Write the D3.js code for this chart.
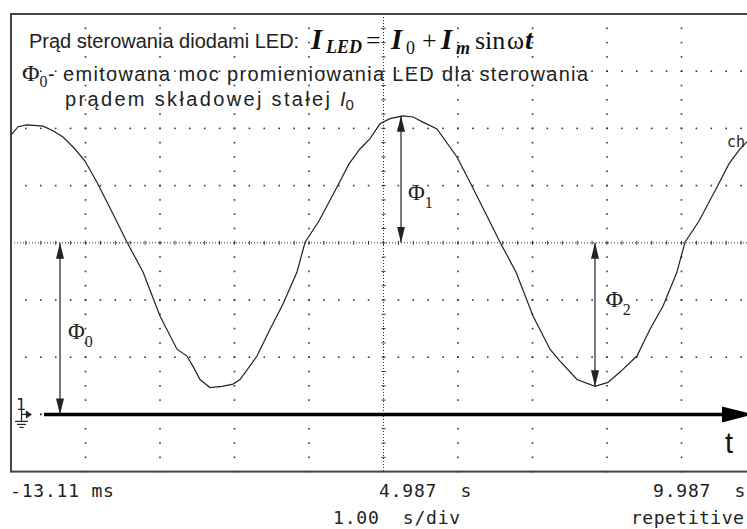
<!DOCTYPE html>
<html>
<head>
<meta charset="utf-8">
<script src="https://cdn.jsdelivr.net/npm/d3@7/dist/d3.min.js"></script>
<style>
body { margin: 0; background: #fff; }
svg { display: block; }
.mono { font-family: "DejaVu Sans Mono", monospace; white-space: pre; }
</style>
</head>
<body>
<div id="vis"></div>
<script>
// trace: time [s] and level [div above ground marker]
var traceTime = [0.000, 0.081, 0.202, 0.417, 0.551, 0.685, 0.846, 0.980, 1.141, 1.370,
    1.544, 1.759, 1.987, 2.215, 2.349, 2.430, 2.524, 2.658, 2.819, 2.967,
    3.061, 3.289, 3.464, 3.638, 3.826, 3.934, 4.121, 4.349, 4.524, 4.671,
    4.806, 4.940, 5.074, 5.249, 5.383, 5.517, 5.705, 5.973, 6.148, 6.376,
    6.551, 6.765, 6.994, 7.222, 7.356, 7.584, 7.826, 8.000, 8.161, 8.389,
    8.564, 8.738, 8.926, 9.034, 9.222, 9.450, 9.624, 9.772, 9.906];
var traceLevel = [4.90, 5.03, 5.06, 5.04, 4.96, 4.85, 4.64, 4.43, 4.06, 3.47,
    3.01, 2.49, 1.72, 1.14, 1.02, 0.84, 0.61, 0.47, 0.49, 0.53,
    0.61, 1.02, 1.49, 1.93, 2.49, 3.01, 3.38, 3.94, 4.38, 4.64,
    4.82, 5.08, 5.17, 5.22, 5.20, 5.11, 4.99, 4.50, 4.06, 3.47,
    3.01, 2.49, 1.72, 1.14, 0.93, 0.61, 0.49, 0.56, 0.74, 1.02,
    1.49, 1.89, 2.49, 3.01, 3.38, 3.94, 4.38, 4.64, 4.82];

// dimension arrows (Phi_0, Phi_1, Phi_2)
var arrowSub = ["0", "1", "2"];
var arrowTime = [0.645, 5.222, 7.826];
var arrowTop = [3.0, 5.22, 3.0];
var arrowBottom = [0.0, 3.0, 0.49];

// scope readouts
var readoutTop = ["-13.11 ms", "4.987  s", "9.987  s"];
var readoutBottom = ["1.00  s/div", "repetitive"];

var tStart = -0.013, tEnd = 9.987;
var divTop = 7, divBottom = -1;

const width = 747;
const height = 529;

var svg = d3
    .select("#vis")
    .append("svg")
    .attr("width", width)
    .attr("height", height);

svg.append("rect").attr("width", width).attr("height", height).attr("fill", "#fff");

var x = d3.scaleLinear().domain([tStart, tEnd]).range([11, 756]);
var y = d3.scaleLinear().domain([divBottom, divTop]).range([471.6, 14]);

var ink = "#222";
var serif = "Liberation Serif, Times New Roman, serif";
var sans = "Liberation Sans, Arial, sans-serif";
var grid = svg.append("g").attr("class", "grid");

// vertical graticule: dots every 1/4 div
d3.range(1, 10).forEach(function(k) {
    var t = tStart + k;
    if (k == 5) return;
    grid.selectAll(null)
        .data(d3.range(divBottom, divTop + 0.01, 0.25))
        .enter()
        .append("rect")
        .attr("x", x(t) - 0.8)
        .attr("y", function(d) { return y(d) - 0.8; })
        .attr("width", 1.6)
        .attr("height", 1.6)
        .attr("fill", "#333");
});

// horizontal graticule: dots every 1/5 div
d3.range(divBottom + 1, divTop).forEach(function(v) {
    if (v == 3) return;
    grid.selectAll(null)
        .data(d3.range(tStart, tEnd + 0.01, 0.2))
        .enter()
        .append("rect")
        .attr("x", function(d) { return x(d) - 0.8; })
        .attr("y", y(v) - 0.8)
        .attr("width", 1.6)
        .attr("height", 1.6)
        .attr("fill", "#333");
});

// centre lines, dense dotted with small ticks
var tMid = tStart + 5;
grid.append("line")
    .attr("x1", x(tMid)).attr("x2", x(tMid))
    .attr("y1", y(divTop)).attr("y2", y(divBottom))
    .attr("stroke", "#333").attr("stroke-width", 1)
    .attr("stroke-dasharray", "1,2");
grid.selectAll(null)
    .data(d3.range(divBottom, divTop + 0.01, 0.25))
    .enter()
    .append("line")
    .attr("x1", x(tMid) - 2).attr("x2", x(tMid) + 2)
    .attr("y1", function(d) { return y(d); })
    .attr("y2", function(d) { return y(d); })
    .attr("stroke", "#333").attr("stroke-width", 1);

grid.append("line")
    .attr("x1", x(tStart)).attr("x2", x(tEnd))
    .attr("y1", y(3)).attr("y2", y(3))
    .attr("stroke", "#333").attr("stroke-width", 1)
    .attr("stroke-dasharray", "1,2");
grid.selectAll(null)
    .data(d3.range(tStart, tEnd + 0.01, 0.2))
    .enter()
    .append("line")
    .attr("x1", function(d) { return x(d); })
    .attr("x2", function(d) { return x(d); })
    .attr("y1", y(3) - 2).attr("y2", y(3) + 2)
    .attr("stroke", "#333").attr("stroke-width", 1);

// frame
svg.append("rect")
    .attr("x", x(tStart))
    .attr("y", y(divTop))
    .attr("width", x(tEnd) - x(tStart))
    .attr("height", y(divBottom) - y(divTop))
    .attr("fill", "none")
    .attr("stroke", "#444")
    .attr("stroke-width", 2);

// time axis arrow on the ground level
svg.append("line")
    .attr("x1", 44).attr("x2", 724)
    .attr("y1", y(0)).attr("y2", y(0))
    .attr("stroke", "#000").attr("stroke-width", 3.5);
svg.append("path")
    .attr("d", "M722," + (y(0) - 8) + "L753," + y(0) + "L722," + (y(0) + 8) + "Z")
    .attr("fill", "#000");
svg.append("rect").attr("x", 40).attr("y", y(0) - 0.8).attr("width", 1.6).attr("height", 1.6).attr("fill", "#333");
svg.append("text")
    .attr("x", 725).attr("y", 453)
    .style("font-family", sans)
    .style("font-size", "29px")
    .attr("fill", "#111")
    .text("t");

// ground marker
var gm = svg.append("g").attr("stroke", ink).attr("stroke-width", 1.2).attr("fill", "none");
gm.append("line").attr("x1", 21.5).attr("x2", 21.5).attr("y1", y(0) - 5).attr("y2", y(0) + 7);
gm.append("line").attr("x1", 21.5).attr("x2", 27).attr("y1", y(0)).attr("y2", y(0));
gm.append("line").attr("x1", 15).attr("x2", 28).attr("y1", y(0) + 7).attr("y2", y(0) + 7);
gm.append("line").attr("x1", 17).attr("x2", 26).attr("y1", y(0) + 10).attr("y2", y(0) + 10);
gm.append("line").attr("x1", 19.5).attr("x2", 23.5).attr("y1", y(0) + 13).attr("y2", y(0) + 13);
svg.append("path")
    .attr("d", "M26," + (y(0) - 4) + "L32," + y(0) + "L26," + (y(0) + 4) + "Z")
    .attr("fill", ink);
svg.append("text")
    .attr("x", 16).attr("y", 410)
    .attr("class", "mono")
    .style("font-size", "16px")
    .attr("fill", ink)
    .text("1");

// waveform
var trace = d3.zip(traceTime, traceLevel);
var line = d3.line()
    .x(function(d) { return x(d[0]); })
    .y(function(d) { return y(d[1]); });

svg.append("path")
    .datum(trace)
    .attr("d", line)
    .attr("fill", "none")
    .attr("stroke", ink)
    .attr("stroke-width", 1.2);

svg.append("text")
    .attr("x", 727).attr("y", 147)
    .attr("class", "mono")
    .style("font-size", "15px")
    .attr("fill", ink)
    .text("ch");

// dimension arrows
var defs = svg.append("defs");
defs.append("marker")
    .attr("id", "head")
    .attr("viewBox", "0 0 16 8")
    .attr("refX", 16).attr("refY", 4)
    .attr("markerWidth", 16).attr("markerHeight", 8)
    .attr("markerUnits", "userSpaceOnUse")
    .attr("orient", "auto-start-reverse")
    .append("path")
    .attr("d", "M0,0L16,4L0,8Z")
    .attr("fill", ink);

var arrows = svg.append("g").selectAll("g")
    .data(arrowSub)
    .enter()
    .append("g");

arrows.append("line")
    .attr("x1", function(d, i) { return x(arrowTime[i]); })
    .attr("x2", function(d, i) { return x(arrowTime[i]); })
    .attr("y1", function(d, i) { return y(arrowTop[i]); })
    .attr("y2", function(d, i) { return y(arrowBottom[i]); })
    .attr("stroke", ink)
    .attr("stroke-width", 1.2)
    .attr("marker-start", "url(#head)")
    .attr("marker-end", "url(#head)");

var labelPos = [[68, 339], [408, 200], [606, 307]];
var phi = arrows.append("text")
    .attr("x", function(d, i) { return labelPos[i][0]; })
    .attr("y", function(d, i) { return labelPos[i][1]; })
    .style("font-family", serif)
    .style("font-size", "23px")
    .attr("fill", ink);
phi.append("tspan").text("\u03A6");
phi.append("tspan")
    .attr("dy", 8)
    .style("font-size", "16px")
    .text(function(d) { return d; });

// readouts
var readTopX = [10, 379, 653];
svg.selectAll(".rtop")
    .data(readoutTop)
    .enter()
    .append("text")
    .attr("class", "mono rtop")
    .attr("x", function(d, i) { return readTopX[i]; })
    .attr("y", 497)
    .style("font-size", "18px")
    .style("letter-spacing", "0.8px")
    .attr("fill", ink)
    .text(function(d) { return d; });
var readBotX = [333, 631];
svg.selectAll(".rbot")
    .data(readoutBottom)
    .enter()
    .append("text")
    .attr("class", "mono rbot")
    .attr("x", function(d, i) { return readBotX[i]; })
    .attr("y", 524)
    .style("font-size", "18px")
    .style("letter-spacing", function(d, i) { return i == 1 ? "0.5px" : "0.8px"; })
    .attr("fill", ink)
    .text(function(d) { return d; });

// annotations
svg.append("text")
    .attr("x", 29).attr("y", 48)
    .style("font-family", sans).style("font-size", "20px")
    .attr("fill", ink)
    .text("Prąd sterowania diodami LED:");

// I_LED = I_0 + I_m sin(wt)
var f = svg.append("text")
    .attr("y", 49)
    .style("font-family", serif).style("font-size", "26px")
    .attr("fill", "#111");
var bi = function(s) { return s.style("font-weight", "bold").style("font-style", "italic"); };
bi(f.append("tspan").attr("x", 311).style("font-size", "29px")).text("I");
bi(f.append("tspan").attr("x", 326).attr("dy", 4).style("font-size", "18px")).text("LED");
f.append("tspan").attr("x", 366).attr("dy", -4).text("=");
bi(f.append("tspan").attr("x", 391).style("font-size", "29px")).text("I");
f.append("tspan").attr("x", 406).attr("dy", 5).style("font-size", "18px").text("0");
f.append("tspan").attr("x", 422).attr("dy", -5).text("+");
bi(f.append("tspan").attr("x", 441).style("font-size", "29px")).text("I");
bi(f.append("tspan").attr("x", 456).attr("dy", 5).style("font-size", "18px")).text("m");
f.append("tspan").attr("x", 475).attr("dy", -5).text("sin");
f.append("tspan").attr("x", 507).text("\u03C9");
bi(f.append("tspan").attr("x", 525).style("font-size", "28px")).text("t");

var l2 = svg.append("text")
    .attr("x", 22).attr("y", 81)
    .attr("fill", ink);
l2.append("tspan").style("font-family", serif).style("font-size", "24px").text("\u03A6");
l2.append("tspan").attr("dy", 6).style("font-family", serif).style("font-size", "16px").text("0");
l2.append("tspan").attr("x", 48).attr("dy", -6).style("font-family", sans).style("font-size", "20px").text("-");
svg.append("text")
    .attr("x", 63).attr("y", 81)
    .style("font-family", sans).style("font-size", "20px")
    .attr("textLength", 525).attr("lengthAdjust", "spacing")
    .attr("fill", ink)
    .text("emitowana moc promieniowania LED dla sterowania");

svg.append("text")
    .attr("x", 65).attr("y", 106)
    .style("font-family", sans).style("font-size", "20px")
    .attr("textLength", 265).attr("lengthAdjust", "spacing")
    .attr("fill", ink)
    .text("prądem składowej stałej");
var l3 = svg.append("text")
    .attr("x", 340).attr("y", 106)
    .style("font-family", sans).style("font-size", "20px")
    .attr("fill", ink);
l3.append("tspan").style("font-style", "italic").text("I");
l3.append("tspan").attr("dy", 4).style("font-size", "15px").text("0");
</script>
</body>
</html>
